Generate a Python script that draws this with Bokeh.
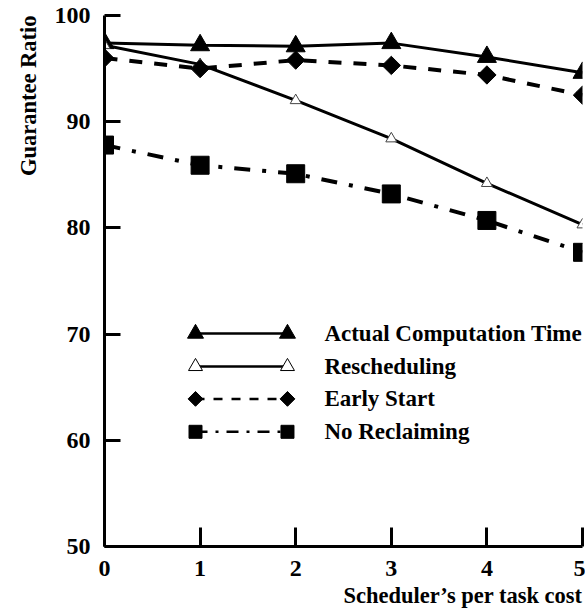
from math import pi
from bokeh.plotting import figure
from bokeh.models import Range1d, FixedTicker, Title
from bokeh.embed import file_html
from bokeh.resources import INLINE
from bokeh.core.properties import value

# ---- data ----
cost = [0, 1, 2, 3, 4, 5]
actual = [97.4, 97.2, 97.1, 97.4, 96.1, 94.6]
resched = [97.2, 95.4, 92.0, 88.4, 84.2, 80.3]
early = [96.0, 95.0, 95.8, 95.3, 94.4, 92.5]
noreclaim = [87.8, 85.9, 85.1, 83.2, 80.7, 77.7]
series_names = ["Actual Computation Time", "Rescheduling", "Early Start", "No Reclaiming"]
x_ticks = [0, 1, 2, 3, 4, 5]
y_ticks = [50, 60, 70, 80, 90, 100]
x_title = "Scheduler\u2019s per task cost"
y_title = "Guarantee Ratio"

FONT = "Liberation Serif"

p = figure(frame_width=478, frame_height=531,
           min_border_left=104, min_border_top=15, min_border_bottom=60, min_border_right=3,
           x_range=Range1d(0, 5), y_range=Range1d(50, 100),
           output_backend="svg", toolbar_location=None, tools="")
p.outline_line_color = None
p.xgrid.visible = False
p.ygrid.visible = False
p.background_fill_color = "white"

for ax in (p.xaxis[0], p.yaxis[0]):
    ax.axis_line_width = 3
    ax.axis_line_color = "black"
    ax.major_tick_line_width = 3
    ax.major_tick_line_color = "black"
    ax.major_tick_out = 0
    ax.minor_tick_line_color = None
    ax.major_label_text_font = FONT
    ax.major_label_text_font_size = "24px"
    ax.major_label_text_font_style = "bold"
    ax.major_label_text_color = "black"
p.xaxis.ticker = FixedTicker(ticks=x_ticks)
p.yaxis.ticker = FixedTicker(ticks=y_ticks)
p.xaxis.major_tick_in = 19
p.yaxis.major_tick_in = 16
p.xaxis.major_label_standoff = 14
p.yaxis.major_label_standoff = 14

# ---- series ----
p.line(cost, actual, line_color="black", line_width=3)
p.scatter(cost, actual, marker="triangle", size=19, fill_color="black", line_color="black")

p.line(cost, resched, line_color="black", line_width=3)
p.scatter(cost, resched, marker="triangle", size=11, fill_color="white", line_color="#444444", line_width=1)

p.line(cost, early, line_color="black", line_width=4, line_dash="13 12")
p.scatter(cost, early, marker="square", angle=pi / 4, size=13, fill_color="black", line_color="black")

p.line(cost, noreclaim, line_color="black", line_width=4, line_dash="16 12 4 12")
p.scatter(cost, noreclaim, marker="square", size=18, fill_color="black", line_color="black")

# ---- legend (layout positions in data space) ----
lx0, lx1, ltx = 0.952, 1.914, 2.30
ly = [70.05, 66.95, 63.9, 60.8]
styles = [
    dict(marker="triangle", size=16, fill="black", angle=0, dash="solid"),
    dict(marker="triangle", size=14, fill="white", angle=0, dash="solid"),
    dict(marker="square", size=10.5, fill="black", angle=pi / 4, dash="9 9"),
    dict(marker="square", size=13, fill="black", angle=0, dash="12 8 3 8"),
]
for name, yy, st in zip(series_names, ly, styles):
    p.line([lx0, lx1], [yy, yy], line_color="black", line_width=2.5, line_dash=st["dash"])
    p.scatter([lx0, lx1], [yy, yy], marker=st["marker"], size=st["size"], angle=st["angle"],
              fill_color=st["fill"], line_color="black", line_width=1)
    p.text([ltx], [yy], text=[name], text_font=value(FONT), text_font_size="23px",
           text_font_style="bold", text_baseline="middle", text_align="left", text_color="black")

# axis titles, as side-panel titles aligned to the frame's ends
p.add_layout(Title(text=y_title, align="right", standoff=22, text_color="black",
                   text_font=FONT, text_font_size="22.5px", text_font_style="bold"), "left")
p.add_layout(Title(text=x_title, align="right", standoff=5, text_color="black",
                   text_font=FONT, text_font_size="22.5px", text_font_style="bold"), "below")

open("out.html", "w").write(file_html(p, INLINE))
